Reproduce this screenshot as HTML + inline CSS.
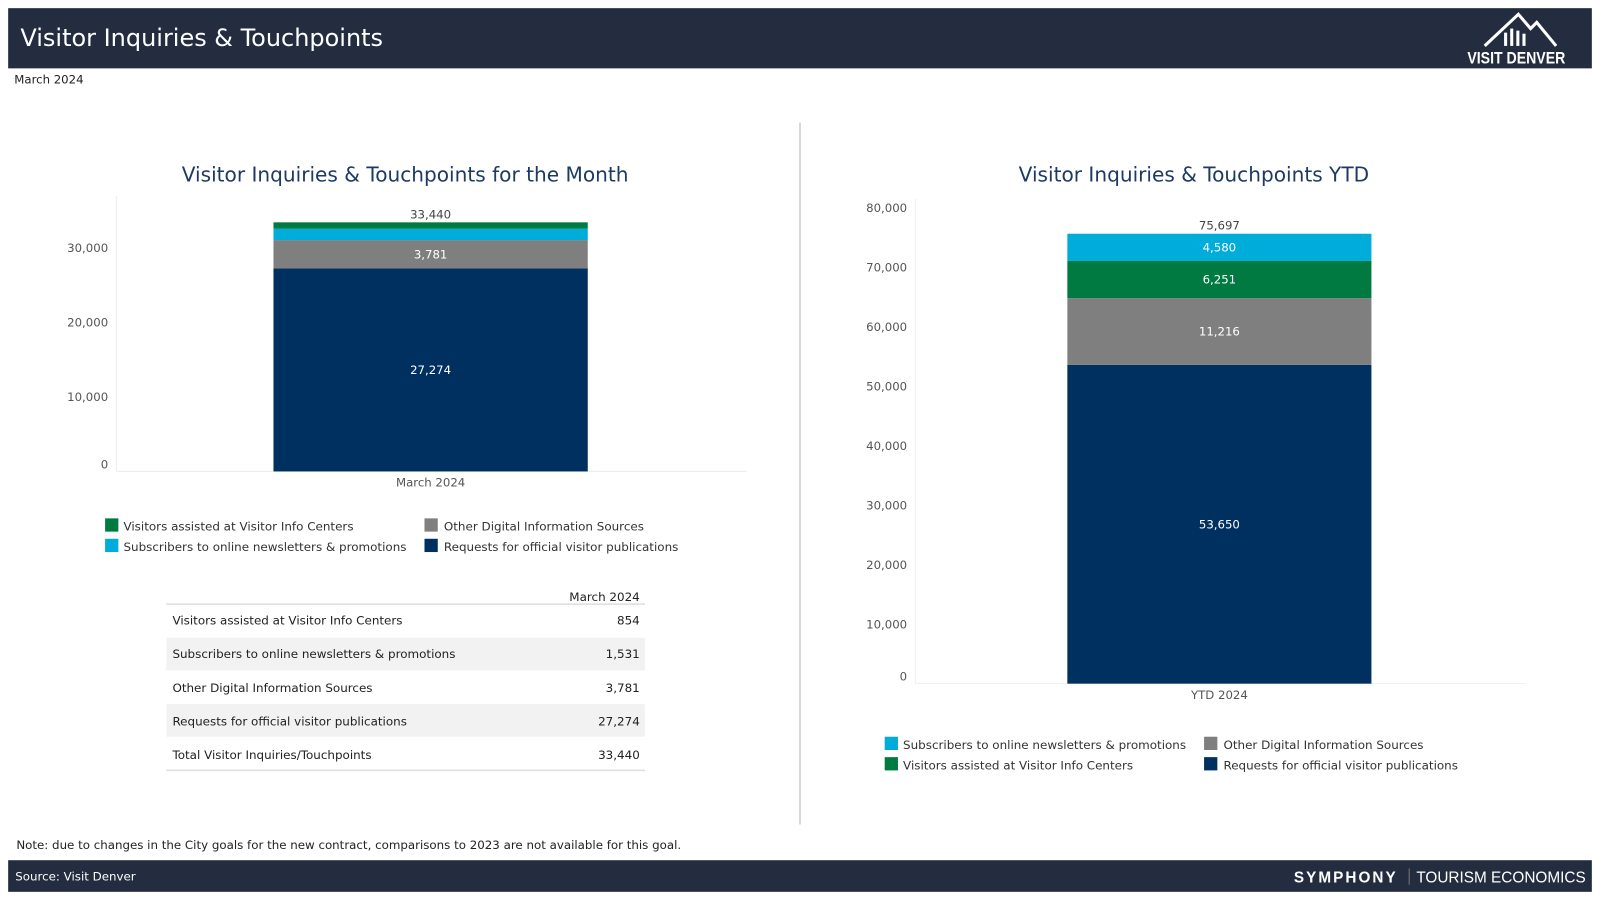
<!DOCTYPE html>
<html><head><meta charset="utf-8"><style>
html,body{margin:0;padding:0;background:#fff;}
svg{display:block;font-family:"DejaVu Sans","Liberation Sans",sans-serif;}
</style></head><body>
<svg id="root" width="1600" height="900" viewBox="0 0 1568 882">
  <rect x="0" y="0" width="1568" height="882" fill="#fff"/>
  <rect x="8" y="8" width="1552" height="59" fill="#232d3f"/>
  <text x="20" y="45" fill="#fff" font-size="23.5">Visitor Inquiries &amp; Touchpoints</text>
  <g>
    <polyline points="1455,45 1488,14 1500,28 1506,22 1525,45" fill="none" stroke="#fff" stroke-width="3"/>
    <rect x="1474" y="32" width="3" height="13" fill="#fff"/><rect x="1480" y="28" width="3" height="17" fill="#fff"/><rect x="1486" y="30" width="3" height="15" fill="#fff"/><rect x="1492" y="33" width="3" height="12" fill="#fff"/>
    <text x="1486" y="62" fill="#fff" font-size="16" font-weight="bold" font-family="Liberation Sans" text-anchor="middle" textLength="96" lengthAdjust="spacingAndGlyphs">VISIT DENVER</text>
  </g>
  <text x="14" y="82" font-size="11.5" fill="#222">March 2024</text>
  <line x1="784" y1="120" x2="784" y2="808" stroke="#ccc" stroke-width="1.5"/>

  <text x="397" y="178" font-size="19.7" fill="#1d3a63" text-anchor="middle">Visitor Inquiries &amp; Touchpoints for the Month</text>
  <g id="leftChart"></g>

  <g font-size="11.7" fill="#333">
    <rect x="103" y="508" width="13" height="13" fill="#007a41"/><text x="121" y="520">Visitors assisted at Visitor Info Centers</text>
    <rect x="416" y="508" width="13" height="13" fill="#7f7f7f"/><text x="435" y="520">Other Digital Information Sources</text>
    <rect x="103" y="528" width="13" height="13" fill="#00acd9"/><text x="121" y="540">Subscribers to online newsletters &amp; promotions</text>
    <rect x="416" y="528" width="13" height="13" fill="#00305f"/><text x="435" y="540">Requests for official visitor publications</text>
  </g>

  <g font-size="11.7" fill="#222">
    <text x="627" y="589" text-anchor="end">March 2024</text>
    <line x1="163" y1="592" x2="632" y2="592" stroke="#ddd" stroke-width="1.5"/>
    <rect x="163" y="625" width="469" height="32" fill="#f2f2f2"/>
    <rect x="163" y="690" width="469" height="32" fill="#f2f2f2"/>
    <text x="169" y="612">Visitors assisted at Visitor Info Centers</text><text x="627" y="612" text-anchor="end">854</text>
    <text x="169" y="645">Subscribers to online newsletters &amp; promotions</text><text x="627" y="645" text-anchor="end">1,531</text>
    <text x="169" y="678">Other Digital Information Sources</text><text x="627" y="678" text-anchor="end">3,781</text>
    <text x="169" y="711">Requests for official visitor publications</text><text x="627" y="711" text-anchor="end">27,274</text>
    <text x="169" y="744">Total Visitor Inquiries/Touchpoints</text><text x="627" y="744" text-anchor="end">33,440</text>
    <line x1="163" y1="755" x2="632" y2="755" stroke="#ddd" stroke-width="1.5"/>
  </g>

  <text x="1170" y="178" font-size="19.7" fill="#1d3a63" text-anchor="middle">Visitor Inquiries &amp; Touchpoints YTD</text>
  <g id="rightChart"></g>

  <g font-size="11.7" fill="#333">
    <rect x="867" y="722" width="13" height="13" fill="#00acd9"/><text x="885" y="734">Subscribers to online newsletters &amp; promotions</text>
    <rect x="1180" y="722" width="13" height="13" fill="#7f7f7f"/><text x="1199" y="734">Other Digital Information Sources</text>
    <rect x="867" y="742" width="13" height="13" fill="#007a41"/><text x="885" y="754">Visitors assisted at Visitor Info Centers</text>
    <rect x="1180" y="742" width="13" height="13" fill="#00305f"/><text x="1199" y="754">Requests for official visitor publications</text>
  </g>

  <text x="16" y="832" font-size="11.6" fill="#222">Note: due to changes in the City goals for the new contract, comparisons to 2023 are not available for this goal.</text>
  <rect x="8" y="843" width="1552" height="31" fill="#232d3f"/>
  <text x="15" y="863" font-size="11.6" fill="#fff">Source: Visit Denver</text>
  <g font-family="Liberation Sans">
    <text x="1268" y="865" font-size="15" fill="#fff" font-weight="bold" letter-spacing="2">SYMPHONY</text>
    <line x1="1381" y1="851" x2="1381" y2="867" stroke="#777" stroke-width="1"/>
    <text x="1388" y="865" font-size="15" fill="#fff" textLength="166" lengthAdjust="spacingAndGlyphs">TOURISM ECONOMICS</text>
  </g>
</svg>
<script>
const monthCategories = ["March 2024"];
const monthSeriesNames = ["requests", "other", "subscribers", "visitors"];
const monthValues = [27274, 3781, 1531, 854];
const monthLabels = ["27,274", "3,781", "1,531", "854"];
const monthTotalLabel = "33,440";
const monthTicks = [0, 10000, 20000, 30000];
const monthTickLabels = ["0", "10,000", "20,000", "30,000"];

const ytdCategories = ["YTD 2024"];
const ytdSeriesNames = ["requests", "other", "visitors", "subscribers"];
const ytdValues = [53650, 11216, 6251, 4580];
const ytdLabels = ["53,650", "11,216", "6,251", "4,580"];
const ytdTotalLabel = "75,697";
const ytdTicks = [0, 10000, 20000, 30000, 40000, 50000, 60000, 70000, 80000];
const ytdTickLabels = ["0", "10,000", "20,000", "30,000", "40,000", "50,000", "60,000", "70,000", "80,000"];

const colors = {requests:"#00305f", other:"#7f7f7f", subscribers:"#00acd9", visitors:"#007a41"};
const NS = "http://www.w3.org/2000/svg";
function mk(tag, attrs, parent){const e=document.createElementNS(NS,tag);for(const k in attrs)e.setAttribute(k,attrs[k]);parent.appendChild(e);return e;}

function drawChart(g, cfg){
  const y = v => cfg.y0 - v * cfg.scale;
  mk("line",{x1:cfg.axisX,y1:cfg.top,x2:cfg.axisX,y2:cfg.y0,stroke:"#eee"},g);
  mk("line",{x1:cfg.axisX,y1:cfg.y0,x2:cfg.right,y2:cfg.y0,stroke:"#eee"},g);
  cfg.ticks.forEach((t,i)=>{
    const tt = mk("text",{x:cfg.axisX-8,y:y(t)+4-(t===0?7:0),"text-anchor":"end","font-size":11.5,fill:"#555"},g);
    
    
    tt.textContent = cfg.tickLabels[i];
  });
  let acc = 0;
  cfg.values.forEach((v,i)=>{
    const r = mk("rect",{x:cfg.barX,y:y(acc+v),width:cfg.barW,height:v*cfg.scale,fill:colors[cfg.names[i]]},g);
    
    
    if (v*cfg.scale > 16){
      const lt = mk("text",{x:cfg.barX+cfg.barW/2,y:y(acc+v/2)+4,"text-anchor":"middle","font-size":11.5,fill:"#fff"},g);
      
      
      lt.textContent = cfg.labels[i];
    }
    acc += v;
  });
  const tl = mk("text",{x:cfg.barX+cfg.barW/2,y:y(acc)-4,"text-anchor":"middle","font-size":11.5,fill:"#444"},g);
  
  
  tl.textContent = cfg.total;
  const cl = mk("text",{x:cfg.barX+cfg.barW/2,y:cfg.y0+15,"text-anchor":"middle","font-size":11.5,fill:"#555"},g);
  
  
  cl.textContent = cfg.cats[0];
}
drawChart(document.getElementById("leftChart"),{y0:462,scale:0.0073,top:192,axisX:114,right:732,barX:268,barW:308,
  values:monthValues,names:monthSeriesNames,labels:monthLabels,total:monthTotalLabel,ticks:monthTicks,tickLabels:monthTickLabels,cats:monthCategories});
drawChart(document.getElementById("rightChart"),{y0:670,scale:0.005825,top:195,axisX:897,right:1495,barX:1046,barW:298,
  values:ytdValues,names:ytdSeriesNames,labels:ytdLabels,total:ytdTotalLabel,ticks:ytdTicks,tickLabels:ytdTickLabels,cats:ytdCategories});
</script>
</body></html>
